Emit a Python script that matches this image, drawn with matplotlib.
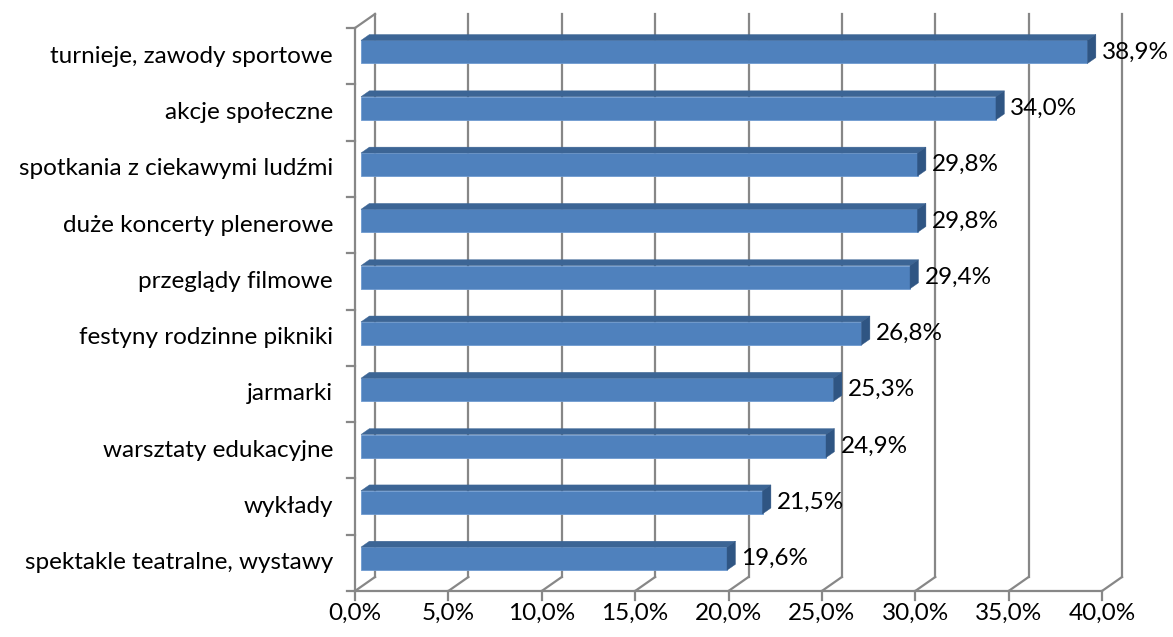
import numpy as np
import matplotlib.pyplot as plt
from matplotlib.patches import Polygon

categories = ['turnieje, zawody sportowe', 'akcje społeczne', 'spotkania z ciekawymi ludźmi',
              'duże koncerty plenerowe', 'przeglądy filmowe', 'festyny rodzinne pikniki',
              'jarmarki', 'warsztaty edukacyjne', 'wykłady', 'spektakle teatralne, wystawy']
values = [38.9, 34.0, 29.8, 29.8, 29.4, 26.8, 25.3, 24.9, 21.5, 19.6]
xticks = [0, 5, 10, 15, 20, 25, 30, 35, 40]

plt.rcParams['font.family'] = ['Lato', 'DejaVu Sans']
fs = 17.5

W, H = 1173, 637
fig = plt.figure(figsize=(W / 100, H / 100), dpi=100)
# front plane of the plot area, in pixels
left, right, top, bottom = 355, 1102, 28, 591
ax = fig.add_axes([left / W, (H - bottom) / H, (right - left) / W, (bottom - top) / H])
n = len(categories)
ax.set_xlim(0, 40)
ax.set_ylim(0, n)
ax.axis('off')

# 3D depth offset (full depth) in data units
px_x = (right - left) / 40
px_y = (bottom - top) / n
DX = 20 / px_x
DY = 14 / px_y

grid_c = '#878787'
lw = 1.6


def off(f):
    return f * DX, f * DY


# back wall gridlines and floor diagonals
bx, by = off(1)
for t in xticks:
    ax.plot([t + bx, t + bx], [by, n + by], color=grid_c, lw=lw, clip_on=False, zorder=1)
    ax.plot([t, t + bx], [0, by], color=grid_c, lw=lw, clip_on=False, zorder=1)
# left wall edges
ax.plot([0, 0], [0, n], color=grid_c, lw=lw, clip_on=False, zorder=1)
ax.plot([0, bx], [n, n + by], color=grid_c, lw=lw, clip_on=False, zorder=1)
# front bottom axis
ax.plot([0, 40], [0, 0], color=grid_c, lw=lw, clip_on=False, zorder=1)

# tick marks
for t in xticks:
    ax.plot([t, t], [0, -9 / px_y], color=grid_c, lw=lw, clip_on=False)
    ax.text(t, -22 / px_y, f'{t:.1f}%'.replace('.', ','), ha='center', va='center', fontsize=fs)
for k in range(n + 1):
    ax.plot([-8 / px_x, 0], [k, k], color=grid_c, lw=lw, clip_on=False)

# bars: front face at depth 0.3, back at 0.72
f0, f1 = 0.3, 0.72
h = 0.41
front_c, top_c, side_c = '#4F81BD', '#3C6595', '#2F5583'
for i, (cat, v) in enumerate(zip(categories, values)):
    yc = n - 0.5 - i
    ox, oy = off(f0)
    ex, ey = off(f1 - f0)
    x0, x1 = ox, v + ox
    y0, y1 = yc - h / 2 + oy, yc + h / 2 + oy
    ax.add_patch(Polygon([(x0, y0), (x1, y0), (x1, y1), (x0, y1)], closed=True,
                         fc=front_c, ec='#6E9AD0', lw=0.6, clip_on=False, zorder=3))
    ax.add_patch(Polygon([(x0, y1), (x1, y1), (x1 + ex, y1 + ey), (x0 + ex, y1 + ey)], closed=True,
                         fc=top_c, ec=top_c, lw=0.3, clip_on=False, zorder=3))
    ax.add_patch(Polygon([(x1, y0), (x1 + ex, y0 + ey), (x1 + ex, y1 + ey), (x1, y1)], closed=True,
                         fc=side_c, ec=side_c, lw=0.3, clip_on=False, zorder=3))
    ax.text(x1 + ex + 6 / px_x, yc + oy, f'{v:.1f}%'.replace('.', ','), ha='left', va='center',
            fontsize=fs, zorder=4)
    ax.text(-22 / px_x, yc, cat, ha='right', va='center', fontsize=fs)

fig.savefig('out.png', dpi=100)
